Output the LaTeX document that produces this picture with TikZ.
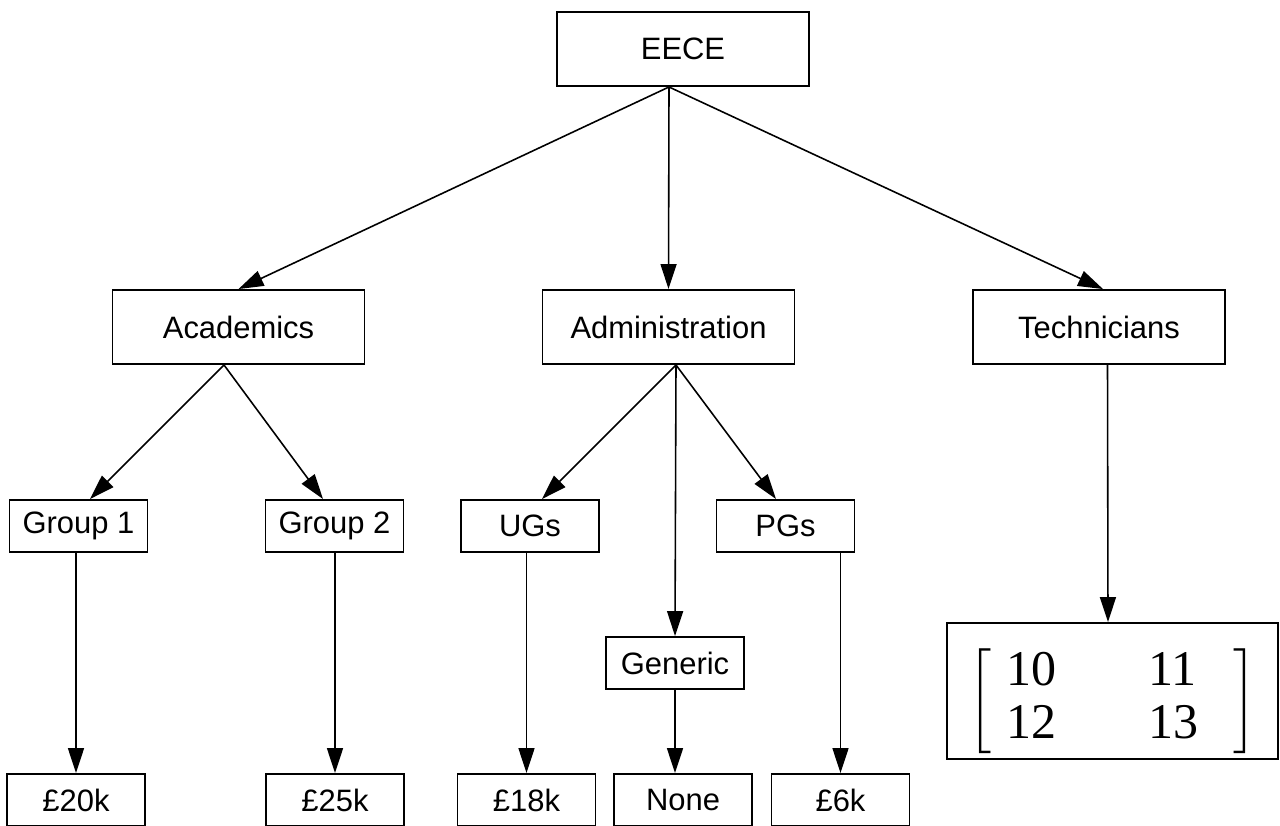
\documentclass[tikz,border=0pt]{standalone}
\usepackage{exscale}
\usepackage{fontspec}
\setmainfont{Liberation Sans}
\newfontfamily\numfont{Liberation Serif}
\usetikzlibrary{arrows.meta}

\begin{document}
\begin{tikzpicture}[
  bigbox/.style={draw, line width=1.1pt, minimum width=5.04cm, minimum height=1.48cm, inner sep=0pt, font=\fontsize{17.6}{21}\selectfont},
  smallbox/.style={draw, line width=1.1pt, minimum width=2.76cm, minimum height=1.04cm, inner sep=0pt, font=\fontsize{17.6}{21}\selectfont},
  link/.style={draw, line width=0.9pt, -{Triangle[length=0.5cm,width=0.32cm]}}
]
\useasboundingbox (0,0) rectangle (25.6,-16.5);
% top levels
\node[bigbox] (eece) at (13.66,-0.98) {EECE};
\node[bigbox] (acad) at (4.77,-6.54) {Academics};
\node[bigbox] (admin) at (13.37,-6.54) {Administration};
\node[bigbox] (tech) at (21.98,-6.54) {Technicians};
% groups
\node[smallbox] (g1) at (1.57,-10.52) {Group 1};
\node[smallbox] (g2) at (6.69,-10.52) {Group 2};
\node[smallbox] (ug) at (10.6,-10.52) {UGs};
\node[smallbox] (pg) at (15.71,-10.52) {PGs};
\node[smallbox] (gen) at (13.5,-13.26) {Generic};
% money
\node[smallbox] (b1) at (1.52,-16.0) {£20k};
\node[smallbox] (b2) at (6.7,-16.0) {£25k};
\node[smallbox] (b3) at (10.53,-16.0) {£18k};
\node[smallbox] (b4) at (13.66,-16.0) {None};
\node[smallbox] (b5) at (16.81,-16.0) {£6k};
\node[draw, line width=1.1pt, minimum width=6.62cm, minimum height=2.72cm, inner sep=0pt] (mat) at (22.25,-13.82)
  {\fontsize{28.45}{30.2}\selectfont\raisebox{-0.2cm}[\height][\depth]{$\left[\mbox{\numfont\begin{tabular}{@{\hspace{0.3cm}}l@{\hspace{1.85cm}}l@{\hspace{0.7cm}}}10 & 11\\12 & 13\end{tabular}}\right]$}};
% arrows
\path[link] ([xshift=-0.28cm]eece.south) -- (acad.north);
\path[link] ([xshift=-0.28cm]eece.south) -- (admin.north);
\path[link] ([xshift=-0.28cm]eece.south) -- ([xshift=0.08cm]tech.north);
\path[link] ([xshift=-0.29cm]acad.south) -- ([xshift=0.23cm]g1.north);
\path[link] ([xshift=-0.29cm]acad.south) -- ([xshift=-0.23cm]g2.north);
\path[link] ([xshift=0.15cm]admin.south) -- ([xshift=0.24cm]ug.north);
\path[link] ([xshift=0.15cm]admin.south) -- (gen.north);
\path[link] ([xshift=0.15cm]admin.south) -- ([xshift=-0.19cm]pg.north);
\path[link] ([xshift=0.17cm]tech.south) -- ([xshift=-0.09cm]mat.north);
\path[link] (g1.south -| b1.north) -- (b1.north);
\path[link] (g2.south -| b2.north) -- (b2.north);
\path[link] (ug.south -| b3.north) -- (b3.north);
\path[link] (gen.south) -- (gen.south |- b4.north);
\path[link] (pg.south -| b5.north) -- (b5.north);
\end{tikzpicture}
\end{document}
